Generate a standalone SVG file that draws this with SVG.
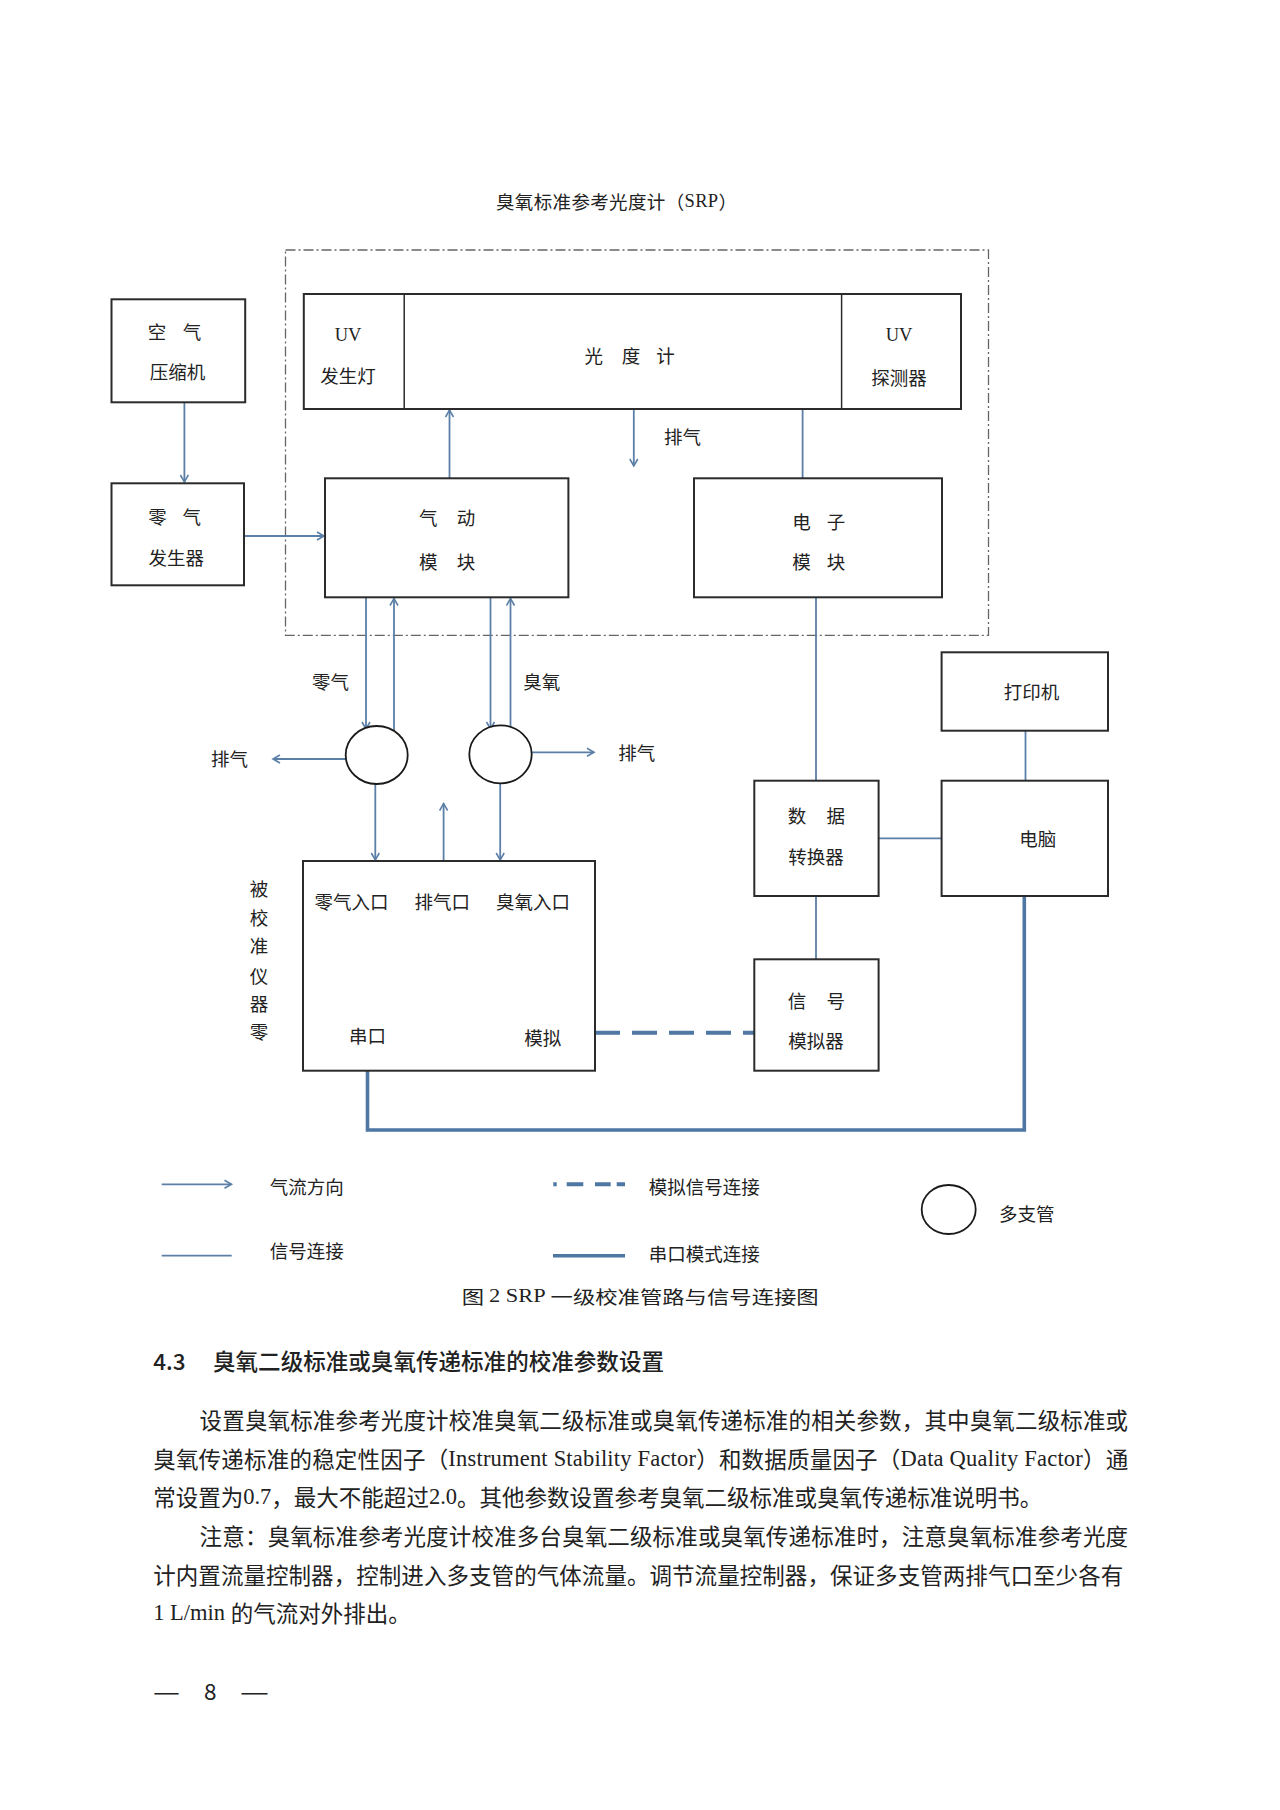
<svg xmlns="http://www.w3.org/2000/svg" width="1280" height="1810" viewBox="0 0 1280 1810">
<style>
  .t { font-family: "Noto Sans CJK SC", "Liberation Sans", sans-serif; font-size: 18.5px; fill: #222; dominant-baseline: central; text-anchor: middle; transform: translateY(-2px); }
  .serif { font-family: "Liberation Serif", "Noto Sans CJK SC", serif; }
  .box { fill: #fff; stroke: #2b2b2b; stroke-width: 2; }
  .conn { fill: none; stroke: #5b7fa6; stroke-width: 1.8; }
  .thick { fill: none; stroke: #4e77a3; stroke-width: 3.6; }
  .dash { fill: none; stroke: #4e77a3; stroke-width: 4; stroke-dasharray: 25 12; }
  .mf { fill: #fff; stroke: #1a1a1a; stroke-width: 1.8; }
  .body { font-family: "Noto Sans CJK SC", "Liberation Serif", sans-serif; font-size: 22.5px; fill: #222; dominant-baseline: central; transform: translateY(-3px); }
</style>
<defs>
  <marker id="arr" markerUnits="userSpaceOnUse" markerWidth="12" markerHeight="12" refX="8" refY="5" orient="auto">
    <path d="M1,1 L8,5 L1,9" fill="none" stroke="#5b7fa6" stroke-width="1.6"/>
  </marker>
</defs>
<rect width="1280" height="1810" fill="#fff"/>

<!-- SRP title and enclosure -->
<text class="t" x="616.5" y="203" textLength="241" lengthAdjust="spacing">臭氧标准参考光度计（<tspan class="serif">SRP</tspan>）</text>
<rect id="srp-enclosure" x="285.5" y="250" width="703" height="385.3" fill="none" stroke="#666" stroke-width="1.3" stroke-dasharray="10 3 2 3"/>

<!-- connectors -->
<g id="connectors">
  <line class="conn" x1="184.4" y1="402.3" x2="184.4" y2="482" marker-end="url(#arr)"/>
  <line class="conn" x1="244" y1="536" x2="324" y2="536" marker-end="url(#arr)"/>
  <line class="conn" x1="449.5" y1="478.3" x2="449.5" y2="410" marker-end="url(#arr)"/>
  <line class="conn" x1="633.8" y1="409" x2="633.8" y2="466" marker-end="url(#arr)"/>
  <line class="conn" x1="802.6" y1="409" x2="802.6" y2="478.3"/>
  <line class="conn" x1="366" y1="597.3" x2="366" y2="729" marker-end="url(#arr)"/>
  <line class="conn" x1="394" y1="731" x2="394" y2="598.5" marker-end="url(#arr)"/>
  <line class="conn" x1="490.5" y1="597.3" x2="490.5" y2="729" marker-end="url(#arr)"/>
  <line class="conn" x1="510.5" y1="729" x2="510.5" y2="598.5" marker-end="url(#arr)"/>
  <line class="conn" x1="345.7" y1="759" x2="273" y2="759" marker-end="url(#arr)"/>
  <line class="conn" x1="531.7" y1="752.3" x2="594" y2="752.3" marker-end="url(#arr)"/>
  <line class="conn" x1="375.3" y1="784" x2="375.3" y2="860" marker-end="url(#arr)"/>
  <line class="conn" x1="443.6" y1="861" x2="443.6" y2="803.5" marker-end="url(#arr)"/>
  <line class="conn" x1="500.2" y1="783.3" x2="500.2" y2="860" marker-end="url(#arr)"/>
  <line class="conn" x1="816" y1="597.3" x2="816" y2="780.7"/>
  <line class="conn" x1="878.6" y1="838.3" x2="941.6" y2="838.3"/>
  <line class="conn" x1="1025.5" y1="730.7" x2="1025.5" y2="780.7"/>
  <line class="conn" x1="816" y1="896" x2="816" y2="959.3"/>
  <line class="dash" x1="595" y1="1032.7" x2="756" y2="1032.7"/>
  <polyline class="thick" points="367.5,1070.7 367.5,1130 1024.3,1130 1024.3,896"/>
</g>

<!-- nodes -->
<g id="air-compressor">
  <rect class="box" x="111.5" y="299.3" width="133.7" height="103"/>
  <text class="t" x="157 192" y="333">空气</text>
  <text class="t" x="177.5" y="373">压缩机</text>
</g>
<g id="zero-air-generator">
  <rect class="box" x="111.5" y="483.3" width="132.5" height="102"/>
  <text class="t" x="157.4 191.8" y="518">零气</text>
  <text class="t" x="176.3" y="559">发生器</text>
</g>
<g id="photometer">
  <rect class="box" x="303.8" y="294" width="657.2" height="115" stroke-width="2.4"/>
  <line x1="404.2" y1="294" x2="404.2" y2="409" stroke="#2b2b2b" stroke-width="1.5"/>
  <line x1="841.6" y1="294" x2="841.6" y2="409" stroke="#2b2b2b" stroke-width="1.5"/>
  <text class="t serif" x="348" y="337">UV</text>
  <text class="t" x="348" y="377">发生灯</text>
  <text class="t" x="593.7 631 665.4" y="357">光度计</text>
  <text class="t serif" x="899" y="337">UV</text>
  <text class="t" x="899" y="379">探测器</text>
</g>
<text class="t" x="682.6" y="438">排气</text>
<g id="pneumatic-module">
  <rect class="box" x="325" y="478.3" width="243.4" height="119"/>
  <text class="t" x="428.3 466" y="519">气动</text>
  <text class="t" x="428.3 466" y="563">模块</text>
</g>
<g id="electronic-module">
  <rect class="box" x="694" y="478.3" width="248" height="119"/>
  <text class="t" x="801.4 835.9" y="522.7">电子</text>
  <text class="t" x="801.4 835.9" y="563">模块</text>
</g>
<text class="t" x="330.6" y="683">零气</text>
<text class="t" x="541.8" y="683">臭氧</text>
<g id="manifold-zero">
  <ellipse class="mf" cx="376.7" cy="755" rx="31" ry="29"/>
</g>
<g id="manifold-ozone">
  <ellipse class="mf" cx="500.5" cy="754.3" rx="31.2" ry="29"/>
</g>
<text class="t" x="229.6" y="760">排气</text>
<text class="t" x="636.7" y="754">排气</text>
<g id="instrument-under-calibration">
  <rect class="box" x="303" y="861" width="292" height="209.7"/>
  <text class="t" x="351.5" y="903">零气入口</text>
  <text class="t" x="442.3" y="903">排气口</text>
  <text class="t" x="533" y="903">臭氧入口</text>
  <text class="t" x="367.5" y="1037.3">串口</text>
  <text class="t" x="542.7" y="1039.3">模拟</text>
</g>
<text class="t" x="259" y="890">被</text>
<text class="t" x="259" y="919">校</text>
<text class="t" x="259" y="947.3">准</text>
<text class="t" x="259" y="976.7">仪</text>
<text class="t" x="259" y="1005">器</text>
<text class="t" x="259" y="1033.3">零</text>
<g id="printer">
  <rect class="box" x="941.6" y="652.3" width="166.4" height="78.4"/>
  <text class="t" x="1031.6" y="692.7">打印机</text>
</g>
<g id="data-converter">
  <rect class="box" x="754.3" y="780.7" width="124.3" height="115.3"/>
  <text class="t" x="797.1 835.7" y="816.7">数据</text>
  <text class="t" x="816" y="858.3">转换器</text>
</g>
<g id="computer">
  <rect class="box" x="941.6" y="780.7" width="166.4" height="115.3"/>
  <text class="t" x="1037.8" y="840">电脑</text>
</g>
<g id="signal-simulator">
  <rect class="box" x="754.3" y="959.3" width="124.3" height="111.4"/>
  <text class="t" x="797 835.7" y="1001.7">信号</text>
  <text class="t" x="816" y="1041.7">模拟器</text>
</g>

<!-- legend -->
<g id="legend">
  <line class="conn" x1="161.7" y1="1184.3" x2="231.5" y2="1184.3" marker-end="url(#arr)"/>
  <text class="t" x="306.7" y="1187.7">气流方向</text>
  <line class="conn" x1="161.7" y1="1255.7" x2="231.7" y2="1255.7"/>
  <text class="t" x="306.7" y="1252.3">信号连接</text>
  <line x1="553.3" y1="1184.3" x2="625" y2="1184.3" stroke="#4e77a3" stroke-width="4" stroke-dasharray="3.4 10 16.6 11.7 15.7 6 8.3 50"/>
  <text class="t" x="704.2" y="1188.3">模拟信号连接</text>
  <line class="thick" x1="553" y1="1255.7" x2="625" y2="1255.7" stroke-width="4"/>
  <text class="t" x="704.2" y="1255">串口模式连接</text>
  <ellipse class="mf" cx="948.7" cy="1209.5" rx="27" ry="24.5"/>
  <text class="t" x="1026.7" y="1215">多支管</text>
</g>

<!-- caption -->
<text class="t" x="640.2" y="1298" font-size="20.5" textLength="357" lengthAdjust="spacingAndGlyphs">图 <tspan class="serif">2 SRP</tspan> 一级校准管路与信号连接图</text>

<!-- body text -->
<text class="body" x="153.2" y="1363" font-weight="500">4.3</text>
<text class="body" x="213" y="1363" font-weight="500" textLength="451" lengthAdjust="spacingAndGlyphs">臭氧二级标准或臭氧传递标准的校准参数设置</text>
<text class="body" x="199.6" y="1422" textLength="928.5" lengthAdjust="spacing">设置臭氧标准参考光度计校准臭氧二级标准或臭氧传递标准的相关参数，其中臭氧二级标准或</text>
<text class="body" x="153.2" y="1461" textLength="975" lengthAdjust="spacing">臭氧传递标准的稳定性因子（<tspan class="serif">Instrument Stability Factor</tspan>）和数据质量因子（<tspan class="serif">Data Quality Factor</tspan>）通</text>
<text class="body" x="153.2" y="1499" textLength="889" lengthAdjust="spacing">常设置为<tspan class="serif">0.7</tspan>，最大不能超过<tspan class="serif">2.0</tspan>。其他参数设置参考臭氧二级标准或臭氧传递标准说明书。</text>
<text class="body" x="199.6" y="1538" textLength="928.5" lengthAdjust="spacing">注意：臭氧标准参考光度计校准多台臭氧二级标准或臭氧传递标准时，注意臭氧标准参考光度</text>
<text class="body" x="153.2" y="1576.5" textLength="970" lengthAdjust="spacing">计内置流量控制器，控制进入多支管的气体流量。调节流量控制器，保证多支管两排气口至少各有</text>
<text class="body" x="153.2" y="1614.5"><tspan class="serif">1 L/min </tspan>的气流对外排出。</text>

<!-- page number -->
<text class="body serif" x="153" y="1693" font-size="26" textLength="27" lengthAdjust="spacingAndGlyphs">—</text>
<text class="body serif" x="204" y="1693" font-size="26">8</text>
<text class="body serif" x="240" y="1693" font-size="26" textLength="29" lengthAdjust="spacingAndGlyphs">—</text>
</svg>
